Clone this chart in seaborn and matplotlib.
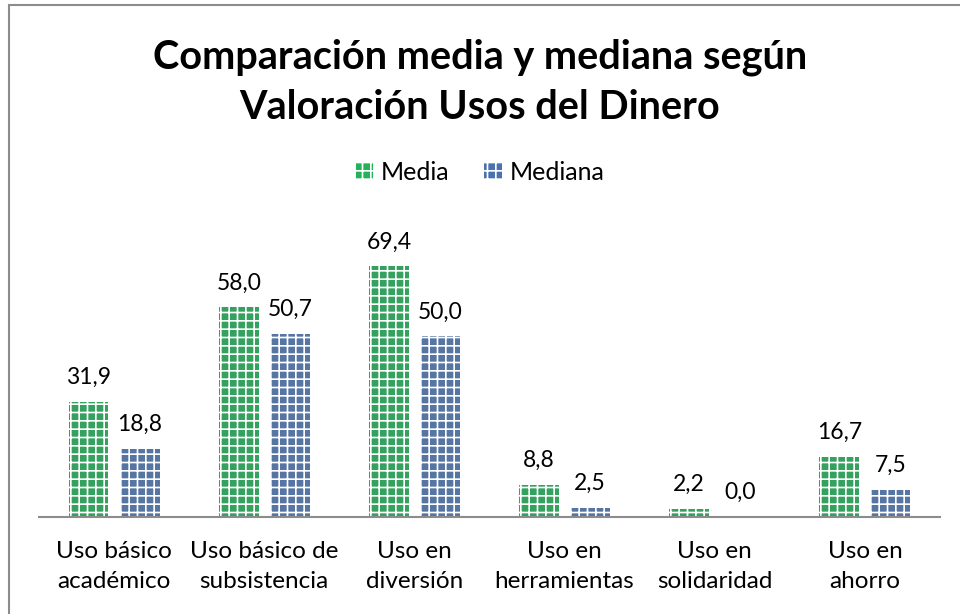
import seaborn as sns
import matplotlib.pyplot as plt
import matplotlib.patches as mpatches
import pandas as pd

categories = ["Uso básico\nacadémico", "Uso básico de\nsubsistencia", "Uso en\ndiversión",
              "Uso en\nherramientas", "Uso en\nsolidaridad", "Uso en\nahorro"]
media = [31.9, 58.0, 69.4, 8.8, 2.2, 16.7]
mediana = [18.8, 50.7, 50.0, 2.5, 0.0, 7.5]
series = ["Media", "Mediana"]
colors = ["#22B35A", "#4A72B0"]

df = pd.DataFrame({
    "cat": categories * 2,
    "serie": [series[0]] * len(categories) + [series[1]] * len(categories),
    "valor": media + mediana,
})

sns.set_theme(style="white")
plt.rcParams['font.family'] = ['Lato', 'DejaVu Sans']
plt.rcParams['text.color'] = 'black'
plt.rcParams['xtick.color'] = 'black'
plt.rcParams['hatch.color'] = 'white'
plt.rcParams['hatch.linewidth'] = 1.2

fig = plt.figure(figsize=(9.6, 6.14), dpi=100)
ax = fig.add_axes([39 / 960, 97 / 614, 901 / 960, 289 / 614])

sns.barplot(data=df, x="cat", y="valor", hue="serie", palette=colors,
            width=0.68, gap=0.22, ax=ax, legend=False, linewidth=0)

for cont in ax.containers:
    for bar in cont:
        bar.set_hatch("++")
    labels = [f"{v:.1f}".replace(".", ",") for v in cont.datavalues]
    ax.bar_label(cont, labels=labels, padding=10, fontsize=16.5, color="black")

ax.set_ylim(0, 80)
ax.set_xlim(-0.5, 5.5)
ax.set_xlabel("")
ax.set_ylabel("")
ax.set_yticks([])
ax.tick_params(axis="x", labelsize=17.5, length=0, pad=17, labelcolor="black")
for lbl in ax.get_xticklabels():
    lbl.set_linespacing(1.58)
for s in ["top", "right", "left"]:
    ax.spines[s].set_visible(False)
ax.spines["bottom"].set_color("#8c8c8c")
ax.spines["bottom"].set_linewidth(1.5)

handles = [mpatches.Patch(facecolor=c, hatch="++", edgecolor="white", linewidth=0, label=s)
           for c, s in zip(colors, series)]
fig.legend(handles=handles, loc="center", bbox_to_anchor=(0.5, 1 - 172 / 614), ncol=2,
           frameon=False, fontsize=18, handlelength=0.7, handleheight=0.7,
           handletextpad=0.3, columnspacing=1.4)

fig.text(0.5, 1 - 82 / 614, "Comparación media y mediana según\nValoración Usos del Dinero",
         ha="center", va="center", fontsize=28.5, fontweight="bold", linespacing=1.42)

fig.patches.append(mpatches.Rectangle((9 / 960, -0.1), 1.0, 1 - 5 / 614 + 0.1,
                                      transform=fig.transFigure, fill=False,
                                      edgecolor="#8c8c8c", linewidth=1.5))

fig.savefig("out.png", dpi=100)
